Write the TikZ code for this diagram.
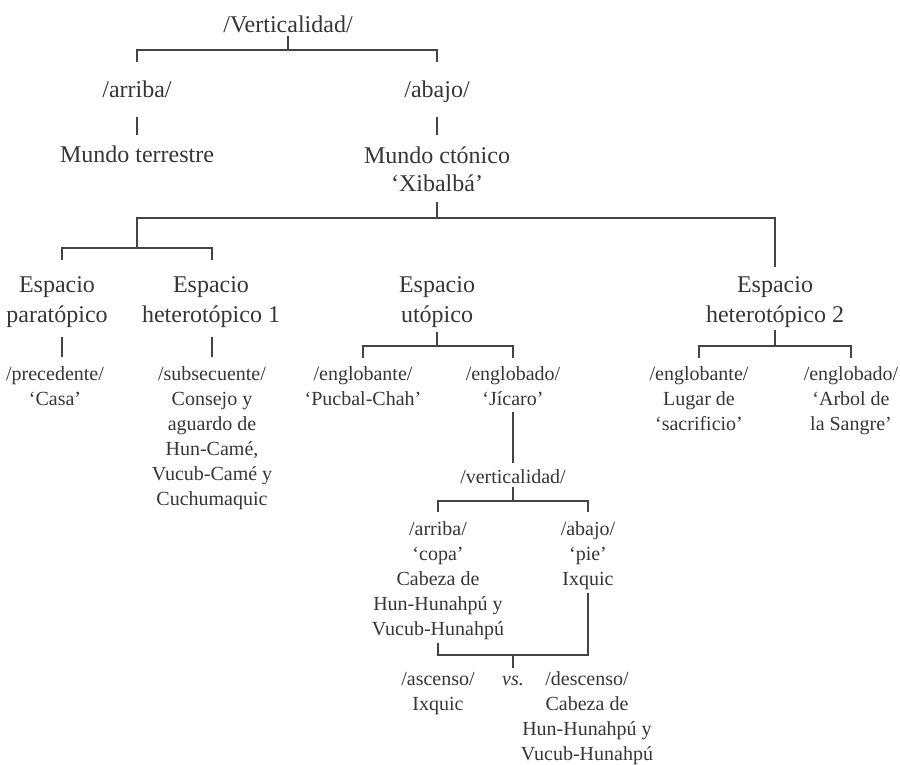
\documentclass[tikz,border=0pt]{standalone}
\usepackage{fontspec}
\setmainfont{Liberation Serif}
\definecolor{ink}{HTML}{363636}
\definecolor{rule}{HTML}{444444}
\begin{document}
\begin{tikzpicture}[x=1pt,y=-1pt,
  every node/.style={inner sep=0pt, outer sep=0pt, text=ink, align=center, anchor=base},
  big/.style={font=\fontsize{24}{30}\selectfont},
  small/.style={font=\fontsize{20}{25}\selectfont},
  conn/.style={draw=rule, line width=1.1pt}]
\fill[white] (0,0) rectangle (900,765);
\useasboundingbox (0,0) rectangle (900,765);

% (node y = baseline of the last line)
\node[big] (v) at (288,33) {/Verticalidad/};
\node[big] (ar) at (137,98) {/arriba/};
\node[big] (ab) at (437,98) {/abajo/};
\node[big] (mt) at (137,163) {Mundo terrestre};
\node[font=\fontsize{24}{28}\selectfont] (mc) at (437,191) {Mundo ctónico\\‘Xibalbá’};

% espacios
\node[big] (ep) at (57,322) {Espacio\\paratópico};
\node[big] (eh1) at (211,322) {Espacio\\heterotópico 1};
\node[big] (eu) at (437,322) {Espacio\\utópico};
\node[big] (eh2) at (775,322) {Espacio\\heterotópico 2};

% level below espacios
\node[small] (pre) at (55,405) {/precedente/\\‘Casa’};
\node[small] (sub) at (212,505) {/subsecuente/\\Consejo y\\aguardo de\\Hun-Camé,\\Vucub-Camé y\\Cuchumaquic};
\node[small] (egl1) at (363,405) {/englobante/\\‘Pucbal-Chah’};
\node[small] (egd1) at (513,405) {/englobado/\\‘Jícaro’};
\node[small] (egl2) at (699,430) {/englobante/\\Lugar de\\‘sacrificio’};
\node[small] (egd2) at (851,430) {/englobado/\\‘Arbol de\\la Sangre’};

% utopico subtree
\node[small] (vert) at (513,483) {/verticalidad/};
\node[small] (arr2) at (438,635) {/arriba/\\‘copa’\\Cabeza de\\Hun-Hunahpú y\\Vucub-Hunahpú};
\node[small] (aba2) at (588,585) {/abajo/\\‘pie’\\Ixquic};
\node[small] (asc) at (438,710) {/ascenso/\\Ixquic};
\node[small] (vs) at (513,685) {\textit{vs.}};
\node[small] (desc) at (587,760) {/descenso/\\Cabeza de\\Hun-Hunahpú y\\Vucub-Hunahpú};

% connectors
\draw[conn] (v |- 0,36) -- (v |- 0,50);
\draw[conn] (ar |- 0,62) |- (ab |- 0,50) -- (ab |- 0,62);
\draw[conn] (ar |- 0,117) -- (mt |- 0,135);
\draw[conn] (ab |- 0,117) -- (mc |- 0,135);
\draw[conn] (mc |- 0,202) -- (mc |- 0,218);
\draw[conn] (mt |- 0,248) |- (eh2 |- 0,218) -- (eh2 |- 0,267);
\coordinate (pl) at (62,260);
\draw[conn] (pl) |- (sub |- 0,248) -- (sub |- 0,260);
\draw[conn] (pl |- 0,337) -- (pl |- 0,357);
\draw[conn] (sub |- 0,337) -- (sub |- 0,357);
\draw[conn] (eu |- 0,332) -- (eu |- 0,346);
\draw[conn] (egl1 |- 0,358) |- (egd1 |- 0,346) -- (egd1 |- 0,358);
\draw[conn] (eh2 |- 0,330) -- (eh2 |- 0,346);
\draw[conn] (egl2 |- 0,358) |- (egd2 |- 0,346) -- (egd2 |- 0,358);
\draw[conn] (egd1 |- 0,412) -- (vert |- 0,463);
\draw[conn] (vert |- 0,487) -- (vert |- 0,501);
\draw[conn] (arr2 |- 0,512) |- (aba2 |- 0,501) -- (aba2 |- 0,512);
\draw[conn] (aba2 |- 0,593) |- (arr2 |- 0,655) -- (arr2 |- 0,643);
\draw[conn] (vs |- 0,655) -- (vs |- 0,668);
\end{tikzpicture}
\end{document}
